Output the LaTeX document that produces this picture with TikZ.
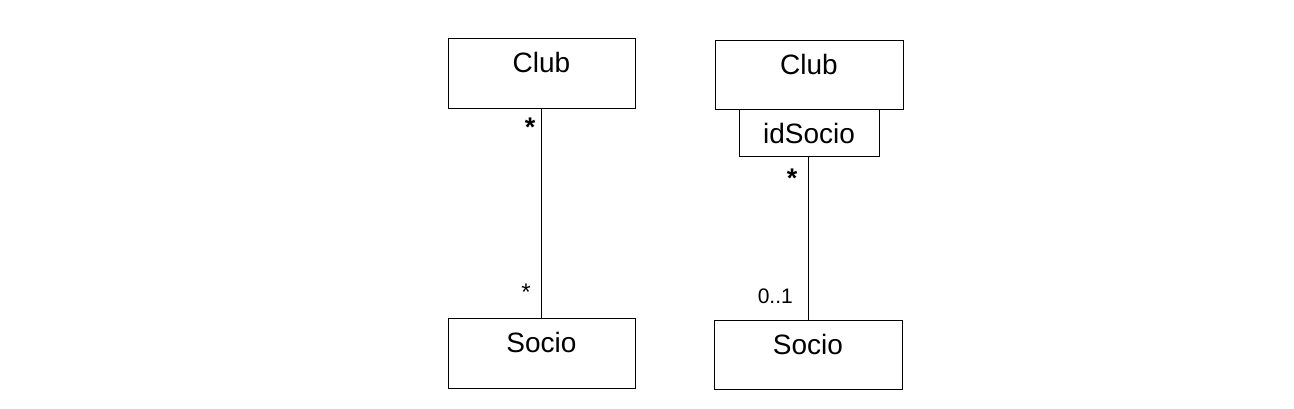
\documentclass[tikz,border=0pt]{standalone}
\usepackage{fontspec}
\setmainfont{Liberation Sans}

\tikzset{
    classbox/.style={draw, rectangle, line width=0.9pt, inner sep=0pt},
    classname/.style={font=\fontsize{28}{34}\selectfont, inner sep=0pt, anchor=base},
    keybox/.style={classbox, minimum width=140pt, minimum height=47pt, font=\fontsize{28}{34}\selectfont},
    multstar/.style={font=\fontsize{27}{32}\selectfont\bfseries, inner sep=0pt, anchor=north},
    multnum/.style={font=\fontsize{21}{26}\selectfont, inner sep=0pt, anchor=base east},
    assoc/.style={line width=0.9pt}
}

\begin{document}
\begin{tikzpicture}[x=1pt, y=-1pt]
            \useasboundingbox (0, 0) rectangle (1294, 408);
            % Left: plain association
                \node[classbox, minimum width=187pt, minimum height=70pt](club1) at (541.5, 73){};
                \node[classname](club1name) at ([yshift=-35pt]club1.north){Club};
                \node[classbox, minimum width=187pt, minimum height=70pt](socio1) at (541.5, 353){};
                \node[classname](socio1name) at ([yshift=-35pt]socio1.north){Socio};
                \draw[assoc] (club1.south) -- (socio1.north);
                \node[multstar](m1) at (530, 118){*};
                \node[multstar, font=\fontsize{24}{28}\selectfont](m2) at (526, 284){*};
            % Right: qualified association
                \node[classbox, minimum width=188pt, minimum height=69pt](club2) at (809, 74.5){};
                \node[classname](club2name) at ([yshift=-35pt]club2.north){Club};
                \node[keybox, anchor=north](qual) at (club2.south){idSocio};
                \node[classbox, minimum width=188pt, minimum height=69pt](socio2) at (808, 354.5){};
                \node[classname](socio2name) at ([yshift=-35pt]socio2.north){Socio};
                \draw[assoc] (qual.south -| socio2.north) -- (socio2.north);
                \node[multstar](m3) at (792, 169){*};
                \node[multnum](m4) at (793, 303){0..1};
            \end{tikzpicture}
\end{document}
